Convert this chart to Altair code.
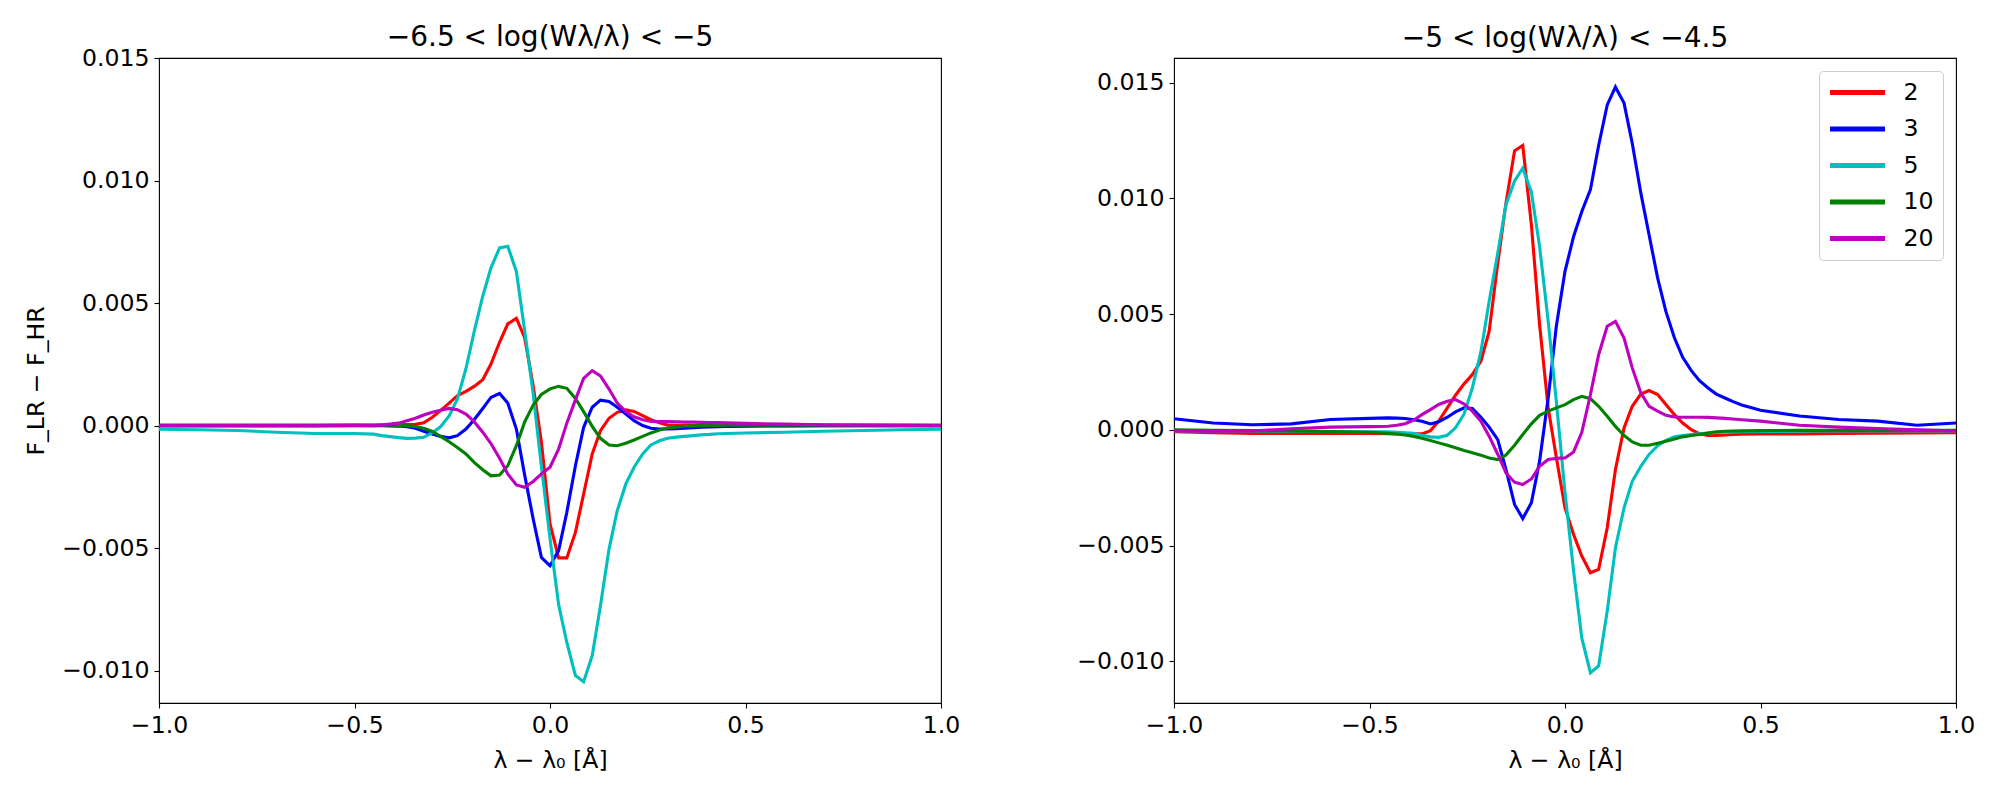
import altair as alt
import pandas as pd

# wavelength offset grid (Angstrom)
X = [-1.0, -0.9, -0.8, -0.7, -0.6, -0.5,
     -0.452, -0.430, -0.409, -0.387, -0.366, -0.344, -0.323, -0.301, -0.280, -0.258, -0.237,
     -0.215, -0.194, -0.172, -0.151, -0.129, -0.108, -0.086, -0.065, -0.043, -0.022,
     0.0,
     0.022, 0.043, 0.065, 0.086, 0.108, 0.129, 0.151, 0.172, 0.194, 0.215, 0.237,
     0.258, 0.280, 0.301, 0.323, 0.344, 0.366, 0.387, 0.409, 0.430, 0.452,
     0.5, 0.6, 0.7, 0.8, 0.9, 1.0]

SERIES = ["2", "3", "5", "10", "20"]
COLORS = ["#ff0000", "#0000ff", "#00bfbf", "#008000", "#bf00bf"]

# values in units of 1e-3
LEFT_2 = [0, 0, 0, 0, 0, 0.01,
          0.01, 0.02, 0.02, 0.03, 0.04, 0.05, 0.11, 0.34, 0.61, 0.92, 1.22, 1.40, 1.60, 1.87, 2.51, 3.40, 4.15, 4.38, 3.60, 1.63, -0.68,
          -4.0,
          -5.4, -5.4, -4.36, -2.79, -1.16, -0.21, 0.30, 0.54, 0.64, 0.58, 0.41, 0.24, 0.11, 0.02, 0.0, 0.0, 0.0, 0.0, 0.0, 0.0, 0.0,
          0, 0, 0, 0, 0, 0]
LEFT_3 = [0, 0, 0, 0, 0, 0,
          0.0, 0.0, -0.01, -0.02, -0.05, -0.11, -0.23, -0.34, -0.44, -0.50, -0.41, -0.14, 0.24, 0.70, 1.15, 1.31, 0.92, -0.14, -2.0, -3.81, -5.38,
          -5.72,
          -5.1, -3.54, -1.64, -0.07, 0.75, 1.04, 0.98, 0.75, 0.47, 0.20, 0.0, -0.11, -0.14, -0.14, -0.13, -0.11, -0.09, -0.07, -0.06, -0.05, -0.04,
          -0.02, -0.01, 0, 0, 0, 0]
LEFT_5 = [-0.15, -0.17, -0.20, -0.27, -0.32, -0.32,
          -0.35, -0.41, -0.45, -0.49, -0.52, -0.51, -0.48, -0.29, -0.05, 0.39, 1.08, 2.32, 3.83, 5.28, 6.44, 7.25, 7.32, 6.29, 3.90, 1.30, -1.66,
          -4.6,
          -7.3, -8.85, -10.2, -10.45, -9.39, -7.35, -5.04, -3.47, -2.38, -1.70, -1.16, -0.79, -0.62, -0.52, -0.47, -0.44, -0.41, -0.38, -0.36, -0.33, -0.32,
          -0.30, -0.27, -0.23, -0.20, -0.17, -0.15]
LEFT_10 = [0.02, 0.02, 0.02, 0.02, 0.02, 0.02,
           0.02, 0.02, 0.02, 0.01, 0.0, -0.04, -0.11, -0.24, -0.44, -0.66, -0.89, -1.16, -1.50, -1.80, -2.05, -2.02, -1.64, -0.82, 0.14, 0.84, 1.27,
           1.50,
           1.60, 1.52, 1.11, 0.57, -0.03, -0.52, -0.79, -0.82, -0.72, -0.59, -0.44, -0.30, -0.18, -0.10, -0.06, -0.03, -0.01, 0.0, 0.01, 0.01, 0.02,
           0.02, 0.02, 0.02, 0.02, 0.02, 0.02]
LEFT_20 = [0, 0, 0, 0, 0, 0.01,
           0.0, 0.02, 0.06, 0.10, 0.20, 0.30, 0.43, 0.54, 0.63, 0.70, 0.65, 0.47, 0.16, -0.27, -0.73, -1.33, -1.97, -2.42, -2.52, -2.28, -1.97,
           -1.70,
           -0.96, 0.10, 1.05, 1.93, 2.24, 2.03, 1.49, 0.92, 0.57, 0.36, 0.24, 0.17, 0.16, 0.16, 0.15, 0.14, 0.14, 0.13, 0.12, 0.12, 0.11,
           0.09, 0.06, 0.03, 0.02, 0.01, 0.0]

RIGHT_2 = [-0.08, -0.12, -0.15, -0.15, -0.15, -0.15,
           -0.16, -0.17, -0.17, -0.17, -0.17, -0.03, 0.38, 0.95, 1.50, 1.99, 2.39, 2.97, 4.26, 7.20, 9.80, 12.06, 12.29, 8.87, 4.55, 0.95, -1.20,
           -3.37,
           -4.52, -5.45, -6.17, -6.03, -4.23, -1.71, 0.09, 1.02, 1.55, 1.70, 1.53, 1.10, 0.66, 0.30, 0.01, -0.17, -0.24, -0.24, -0.22, -0.20, -0.19,
           -0.17, -0.17, -0.15, -0.14, -0.13, -0.12]
RIGHT_3 = [0.48, 0.30, 0.22, 0.26, 0.45, 0.50,
           0.52, 0.51, 0.49, 0.44, 0.37, 0.26, 0.35, 0.55, 0.78, 0.95, 0.92, 0.55, 0.12, -0.42, -1.71, -3.22, -3.83, -3.15, -1.35, 1.38, 4.50,
           6.85,
           8.36, 9.44, 10.38, 12.29, 14.04, 14.82, 14.12, 12.39, 10.23, 8.43, 6.56, 5.12, 3.97, 3.14, 2.56, 2.13, 1.81, 1.55, 1.38, 1.22, 1.08,
           0.85, 0.60, 0.45, 0.38, 0.20, 0.30]
RIGHT_5 = [-0.05, -0.05, -0.05, -0.06, -0.07, -0.08,
           -0.08, -0.10, -0.12, -0.15, -0.23, -0.30, -0.32, -0.23, 0.09, 0.69, 1.81, 3.39, 5.55, 7.64, 9.73, 10.76, 11.31, 10.28, 7.93, 4.70, 1.20,
           -2.70,
           -6.10, -9.00, -10.49, -10.20, -7.83, -5.09, -3.37, -2.22, -1.57, -1.06, -0.68, -0.45, -0.30, -0.24, -0.20, -0.17, -0.14, -0.11, -0.10, -0.09, -0.08,
           -0.07, -0.06, -0.05, -0.05, -0.05, -0.05]
RIGHT_10 = [0.0, -0.02, -0.03, -0.05, -0.07, -0.10,
            -0.15, -0.18, -0.22, -0.28, -0.36, -0.46, -0.56, -0.66, -0.77, -0.89, -0.99, -1.09, -1.21, -1.28, -1.09, -0.66, -0.20, 0.26, 0.63, 0.81, 0.95,
            1.09,
            1.31, 1.45, 1.35, 1.02, 0.59, 0.15, -0.24, -0.52, -0.66, -0.66, -0.58, -0.49, -0.39, -0.30, -0.24, -0.20, -0.14, -0.08, -0.06, -0.05, -0.04,
            -0.03, -0.02, -0.02, -0.02, -0.02, -0.02]
RIGHT_20 = [-0.05, -0.06, -0.05, 0.05, 0.12, 0.14,
            0.16, 0.20, 0.27, 0.42, 0.66, 0.88, 1.10, 1.24, 1.31, 1.12, 0.81, 0.37, -0.27, -1.05, -1.86, -2.26, -2.36, -2.12, -1.57, -1.28, -1.23,
            -1.21,
            -0.95, -0.10, 1.52, 3.25, 4.48, 4.69, 3.97, 2.68, 1.60, 1.02, 0.81, 0.63, 0.56, 0.55, 0.55, 0.55, 0.54, 0.52, 0.50, 0.47, 0.44,
            0.38, 0.20, 0.12, 0.06, 0.00, -0.05]

LEFT_TITLE = "−6.5 < log(Wλ/λ) < −5"
RIGHT_TITLE = "−5 < log(Wλ/λ) < −4.5"
X_TICKS = [-1.0, -0.5, 0.0, 0.5, 1.0]
Y_TICKS = [-0.010, -0.005, 0.0, 0.005, 0.010, 0.015]
LEFT_YDOM = [-0.01132, 0.015]
RIGHT_YDOM = [-0.0118, 0.01607]

FONT = "DejaVu Sans"
FS = 23.6


def frame(series_lists):
    rows = []
    for name, ys in zip(SERIES, series_lists):
        for i, (x, y) in enumerate(zip(X, ys)):
            rows.append({"x": x, "y": y * 1e-3, "N": name, "i": i})
    return pd.DataFrame(rows)


def panel(df, title, title_offset, ydom, with_legend, ytitle):
    if with_legend:
        legend = alt.Legend(title=None, orient="top-right", offset=13,
                            symbolType="stroke", symbolSize=3025, symbolStrokeWidth=5,
                            clipHeight=26, rowPadding=10.5, labelFontSize=FS, labelFont=FONT,
                            labelColor="black", labelOffset=16, padding=8.5,
                            strokeColor="#cccccc", fillColor="white", cornerRadius=4)
    else:
        legend = None
    yaxis_kw = dict(values=Y_TICKS, format=".3f", titlePadding=13)
    yaxis_kw["title"] = ytitle if ytitle else None
    return alt.Chart(df, title=alt.Title(title, frame="group", offset=title_offset)).mark_line(
        strokeWidth=3.1
    ).encode(
        x=alt.X("x:Q", scale=alt.Scale(domain=[-1, 1], nice=False, zero=False),
                axis=alt.Axis(values=X_TICKS, format=".1f", title="λ − λ₀ [Å]",
                              labelFlush=False, titlePadding=12)),
        y=alt.Y("y:Q", scale=alt.Scale(domain=ydom, nice=False, zero=False),
                axis=alt.Axis(**yaxis_kw)),
        color=alt.Color("N:N", scale=alt.Scale(domain=SERIES, range=COLORS), legend=legend),
        order=alt.Order("i:Q"),
    ).properties(width=782, height=645)


left = panel(frame([LEFT_2, LEFT_3, LEFT_5, LEFT_10, LEFT_20]), LEFT_TITLE, -6, LEFT_YDOM, False,
             "F_LR − F_HR")
right = panel(frame([RIGHT_2, RIGHT_3, RIGHT_5, RIGHT_10, RIGHT_20]), RIGHT_TITLE, 5, RIGHT_YDOM, True, None)

chart = alt.hconcat(left, right, spacing=115).resolve_scale(
    y="independent", color="independent"
).properties(
    padding={"left": 16, "top": 15, "right": 5, "bottom": 5}
).configure_view(stroke="black", strokeWidth=1.1).configure_axis(
    domain=False, grid=False, tickColor="black", tickWidth=1.1, tickSize=5, labelPadding=5,
    labelFont=FONT, labelFontSize=FS, labelColor="black",
    titleFont=FONT, titleFontSize=FS, titleFontWeight="normal", titleColor="black"
).configure_title(font=FONT, fontSize=28, fontWeight="normal", color="black", anchor="middle")

chart.save("out.html", embed_options={"renderer": "svg", "actions": False})
